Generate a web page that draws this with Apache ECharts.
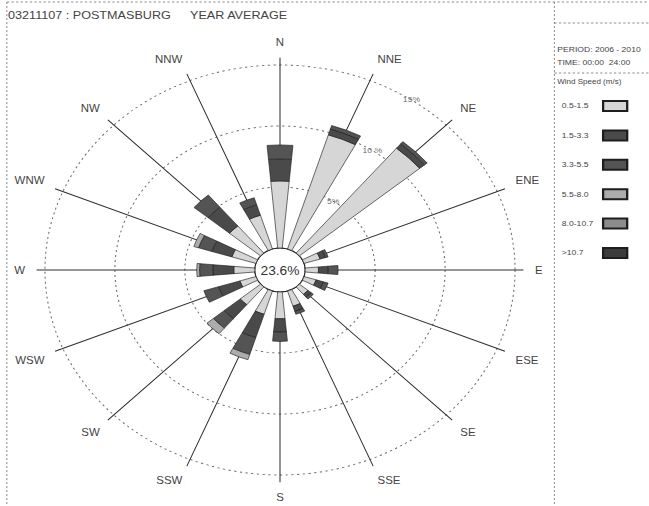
<!DOCTYPE html>
<html>
<head>
<meta charset="utf-8">
<script src="https://cdn.jsdelivr.net/npm/echarts@6/dist/echarts.min.js"></script>
<style>
  html, body { margin: 0; padding: 0; background: #fff; overflow: hidden; }
  #wrap { width: 649px; height: 506px; overflow: hidden; position: relative; }
  /* the plot is laid out at its natural aspect and widened to the page */
  #chart { width: 566px; height: 506px; transform: scaleX(1.1466); transform-origin: 0 0; }
</style>
</head>
<body>
<div id="wrap"><div id="chart"></div></div>
<script>
// ---- station / header text ----
const stationText = '03211107 : POSTMASBURG';
const periodLabel = 'YEAR AVERAGE';
const periodText = 'PERIOD: 2006 - 2010';
const timeText = 'TIME: 00:00  24:00';
const legendTitle = 'Wind Speed (m/s)';
const calmPercent = 23.6;

// ---- directions (clockwise from north) ----
const directions = ['N', 'NNE', 'NE', 'ENE', 'E', 'ESE', 'SE', 'SSE',
                    'S', 'SSW', 'SW', 'WSW', 'W', 'WNW', 'NW', 'NNW'];

// ---- speed classes ----
const speedClasses = ['0.5-1.5', '1.5-3.3', '3.3-5.5', '5.5-8.0', '8.0-10.7', '>10.7'];

// frequency (%) of each speed class per direction, N .. NNW
const freqClass1 = [5.5, 9.8, 11.2, 1.2, 0.95, 0.9, 0.8, 1.3, 2.2, 2.0, 1.9, 1.2, 1.5, 1.8, 2.9, 2.9];
const freqClass2 = [1.8, 0.5, 0.45, 0.4, 0.7, 0.55, 0.3, 0.45, 1.1, 2.0, 1.5, 1.6, 1.5, 1.5, 2.0, 0.9];
const freqClass3 = [1.15, 0.3, 0.25, 0.2, 0.7, 0.35, 0.2, 0.25, 0.75, 1.45, 1.0, 1.1, 0.95, 1.0, 1.3, 0.6];
const freqClass4 = [0, 0, 0, 0, 0, 0, 0, 0, 0, 0.45, 0.6, 0, 0.2, 0.35, 0, 0];
const freqClass5 = [0, 0, 0, 0, 0, 0, 0, 0, 0, 0, 0, 0, 0, 0, 0, 0];
const freqClass6 = [0, 0, 0, 0, 0, 0, 0, 0, 0, 0, 0, 0, 0, 0, 0, 0];

// ring scale (percent)
const ringMax = 15;
const ringStep = 5;
const spokeReach = 15.6;
const ringLabels = ['5%', '10 %', '15%'];
const ringLabelValues = [5, 10, 15];
const ringLabelAngle = 34;

// ---- geometry ----
const CX = 244.2, CY = 270;
const R0 = 22;                 // calm circle
const PX_PER_PCT = 12.2;
const R15 = R0 + ringMax * PX_PER_PCT;
const RSPOKE = R0 + spokeReach * PX_PER_PCT;

const FONT = '"Liberation Sans", Arial, sans-serif';
const classColors = ['#d6d6d6', '#4a4a4a', '#545454', '#acacac', '#8c8c8c', '#3c3c3c'];
const classData = [freqClass1, freqClass2, freqClass3, freqClass4, freqClass5, freqClass6];

const chart = echarts.init(document.getElementById('chart'), null, { renderer: 'svg' });

const barSeries = speedClasses.map((name, i) => ({
  name: name,
  type: 'bar',
  coordinateSystem: 'polar',
  polarIndex: 1,
  stack: 'speed',
  barWidth: '46%',
  itemStyle: { color: classColors[i], borderColor: '#1e1e1e', borderWidth: 0.6 },
  emphasis: { disabled: true },
  data: classData[i].map(v => (v > 0 ? v : '-'))
}));

const dotted = { color: '#6a6a6a', width: 0.9, type: [2, 3] };

const option = {
  animation: false,
  backgroundColor: '#fff',
  textStyle: { fontFamily: FONT },
  polar: [
    { center: [CX, CY], radius: [R0, RSPOKE] },   // spokes + direction names
    { center: [CX, CY], radius: [R0, R15] },      // rings + bars
    { center: [CX, CY], radius: [0, R0] }         // calm circle
  ],
  angleAxis: [
    {
      polarIndex: 0, type: 'value', min: 0, max: 360, interval: 22.5,
      startAngle: 90, clockwise: true,
      axisLine: { show: false }, axisTick: { show: false },
      splitLine: { show: true, lineStyle: { color: '#2e2e2e', width: 0.9 } },
      axisLabel: {
        margin: 10, color: '#444', fontSize: 10, fontFamily: FONT,
        formatter: v => directions[Math.round(v / 22.5) % 16]
      }
    },
    {
      polarIndex: 1, type: 'category', data: directions,
      startAngle: 90 + 11.25, clockwise: true, show: false
    },
    {
      polarIndex: 2, type: 'value', min: 0, max: 360, startAngle: 90,
      axisLine: { show: true, lineStyle: { color: '#222', width: 1 } },
      axisTick: { show: false }, axisLabel: { show: false }, splitLine: { show: false }
    }
  ],
  radiusAxis: [
    { polarIndex: 0, type: 'value', min: 0, max: spokeReach, show: false },
    {
      polarIndex: 1, type: 'value', min: 0, max: ringMax, interval: ringStep,
      axisLine: { show: false }, axisTick: { show: false }, axisLabel: { show: false },
      splitLine: { show: true, lineStyle: dotted }
    },
    { polarIndex: 2, type: 'value', min: 0, max: 1, show: false }
  ],
  legend: {
    data: speedClasses,
    orient: 'vertical',
    left: 485, top: 95,
    align: 'right',
    itemWidth: 21, itemHeight: 10, itemGap: 17.4,
    icon: 'rect',
    selectedMode: false,
    formatter: name => '{t|' + name + '}',
    textStyle: {
      color: '#444', fontSize: 7.5, fontFamily: FONT,
      rich: { t: { width: 31, align: 'left', fontSize: 7.5, color: '#444', fontFamily: FONT } }
    }
  },
  graphic: [
    // frame
    { type: 'line', shape: { x1: 6, y1: 2, x2: 566, y2: 2 }, style: { stroke: '#777', lineWidth: 0.8, lineDash: [2, 2] }, silent: true },
    { type: 'line', shape: { x1: 6, y1: 2, x2: 6, y2: 506 }, style: { stroke: '#777', lineWidth: 0.8, lineDash: [2, 2] }, silent: true },
    { type: 'line', shape: { x1: 483.5, y1: 2, x2: 483.5, y2: 506 }, style: { stroke: '#777', lineWidth: 0.8, lineDash: [2, 2] }, silent: true },
    { type: 'line', shape: { x1: 483.5, y1: 23, x2: 566, y2: 23 }, style: { stroke: '#777', lineWidth: 0.8, lineDash: [2, 2] }, silent: true },
    { type: 'line', shape: { x1: 483.5, y1: 73, x2: 566, y2: 73 }, style: { stroke: '#777', lineWidth: 0.8, lineDash: [2, 2] }, silent: true },
    // header
    { type: 'text', x: 7, y: 15, silent: true, style: { text: stationText, font: '11px ' + FONT, fill: '#444', verticalAlign: 'middle' } },
    { type: 'text', x: 165.7, y: 15, silent: true, style: { text: periodLabel, font: '11px ' + FONT, fill: '#444', verticalAlign: 'middle' } },
    // legend panel text
    { type: 'text', x: 486, y: 50, silent: true, style: { text: periodText, font: '7.5px ' + FONT, fill: '#444', verticalAlign: 'middle' } },
    { type: 'text', x: 486, y: 63, silent: true, style: { text: timeText, font: '7.5px ' + FONT, fill: '#444', verticalAlign: 'middle' } },
    { type: 'text', x: 486, y: 82, silent: true, style: { text: legendTitle, font: '7px ' + FONT, fill: '#444', verticalAlign: 'middle' } },
    // calm percentage
    { type: 'text', x: CX, y: CY + 1, z: 100, silent: true, style: { text: calmPercent.toFixed(1) + '%', font: '12px ' + FONT, fill: '#333', align: 'center', verticalAlign: 'middle' } }
  ],
  series: [
    {
      type: 'scatter',
      coordinateSystem: 'polar',
      polarIndex: 0,
      symbolSize: 0,
      silent: true,
      z: 5,
      label: {
        show: true, position: 'inside', rotate: 0, color: '#444', fontSize: 7.5, fontFamily: FONT,
        formatter: p => ringLabels[p.dataIndex]
      },
      labelLayout: { rotate: 0 },
      data: ringLabelValues.map(v => [v, ringLabelAngle])
    }
  ].concat(barSeries)
};

chart.setOption(option);
</script>
</body>
</html>
